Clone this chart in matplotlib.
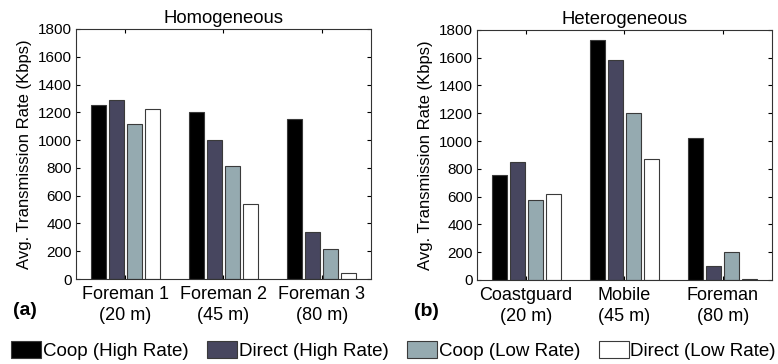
import matplotlib
matplotlib.use('Agg')
import matplotlib.pyplot as plt
import numpy as np

plt.rcParams['font.family'] = ['Liberation Sans', 'DejaVu Sans']

# data
series = ['Coop (High Rate)', 'Direct (High Rate)', 'Coop (Low Rate)', 'Direct (Low Rate)']
colors = ['#000000', '#47465f', '#95aab0', '#ffffff']

homo_labels = ['Foreman 1\n(20 m)', 'Foreman 2\n(45 m)', 'Foreman 3\n(80 m)']
homo_coop_high = [1252, 1200, 1153]
homo_direct_high = [1288, 1000, 337]
homo_coop_low = [1117, 814, 217]
homo_direct_low = [1223, 538, 46]

hetero_labels = ['Coastguard\n(20 m)', 'Mobile\n(45 m)', 'Foreman\n(80 m)']
hetero_coop_high = [758, 1728, 1020]
hetero_direct_high = [848, 1585, 101]
hetero_coop_low = [574, 1200, 204]
hetero_direct_low = [619, 871, 5]

fig = plt.figure(figsize=(7.78, 3.64), dpi=100)
ax1 = fig.add_axes([0.0977, 0.2335, 0.379, 0.687])
ax2 = fig.add_axes([0.613, 0.2308, 0.379, 0.687])

pitch = 0.183
width = 0.152
x = np.arange(1, 4)

def draw(ax, labels, vals, title, tag):
    bars = []
    for i, v in enumerate(vals):
        b = ax.bar(x + (i - 1.5) * pitch, v, width, color=colors[i],
                   edgecolor='#3a3a3a', linewidth=0.8, label=series[i])
        bars.append(b)
    ax.set_xlim(0.5, 3.5)
    ax.set_ylim(0, 1800)
    ax.set_yticks(np.arange(0, 1801, 200))
    ax.set_xticks(x)
    ax.set_xticklabels(labels, fontsize=13, linespacing=1.3)
    ax.tick_params(axis='y', labelsize=11, direction='in', right=True, length=3, pad=3)
    ax.tick_params(axis='x', direction='in', top=True, length=3, pad=5)
    ax.set_ylabel('Avg. Transmission Rate (Kbps)', fontsize=12, labelpad=4)
    ax.set_title(title, fontsize=13.3, pad=4)
    for s in ax.spines.values():
        s.set_color('#333333')
    ax.text(-0.215, -0.125, tag, transform=ax.transAxes, fontsize=14, fontweight='bold',
            ha='left', va='center')
    return bars

bars = draw(ax1, homo_labels, [homo_coop_high, homo_direct_high, homo_coop_low, homo_direct_low],
            'Homogeneous', '(a)')
draw(ax2, hetero_labels, [hetero_coop_high, hetero_direct_high, hetero_coop_low, hetero_direct_low],
     'Heterogeneous', '(b)')

fig.legend(handles=bars, labels=series, loc='center', bbox_to_anchor=(0.506, 0.038),
           ncol=4, frameon=False, fontsize=13.5, handlelength=1.6, handleheight=1.0,
           handletextpad=0.08, columnspacing=1.0, borderpad=0, borderaxespad=0)

fig.savefig('out.png', dpi=100)
